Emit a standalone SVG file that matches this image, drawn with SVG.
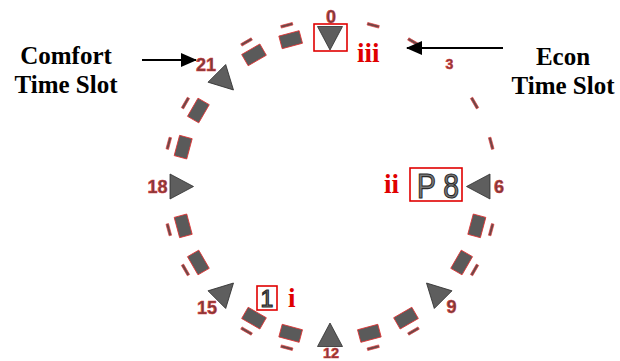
<svg xmlns="http://www.w3.org/2000/svg" xmlns:xlink="http://www.w3.org/1999/xlink" width="620" height="361" viewBox="0 0 620 361">
<style>
.slot{fill:#5a5a5a;stroke:#e03030;stroke-width:0.8}
.dash{fill:#6e4848;stroke:#e03a3a;stroke-width:0.6}
.tri{fill:#5e5e5e;stroke:#2e2e2e;stroke-width:0.8;stroke-linejoin:round}
.num{font-family:"Liberation Sans",Arial,sans-serif;font-weight:bold;font-size:18px;fill:#7a3a3a;stroke:#d83a3a;stroke-width:0.6;text-anchor:middle}
.cap{font-family:"Liberation Serif","Times New Roman",serif;font-weight:bold;font-size:25px;fill:#000;text-anchor:middle}
.red{font-family:"Liberation Serif","Times New Roman",serif;font-weight:bold;font-size:27px;fill:#e00000}
.box{fill:none;stroke:#e00000;stroke-width:1.6}
.seg{font-family:"Liberation Sans",Arial,sans-serif;fill:#7a7a7a;stroke:#2a2a2a;stroke-width:1.2}
.arr{stroke:#000;stroke-width:2;fill:none}
</style>
<defs>
<rect id="slot" class="slot" x="319.5" y="28" width="21" height="13"/>
<rect id="dash" class="dash" x="324" y="18.3" width="12" height="2.6"/>
<polygon id="tri" class="tri" points="317.5,26.5 342.5,26.5 330,50"/>
<marker id="ah" markerWidth="16" markerHeight="14" refX="15" refY="7" orient="auto" markerUnits="userSpaceOnUse">
<polygon points="0,0 16,7 0,14" fill="#000"/>
</marker>
</defs>
<g id="dial">
<g id="h00"><use xlink:href="#tri"/></g>
<g id="h01"><use xlink:href="#dash" transform="rotate(15 330 186.5)"/></g>
<g id="h02"><use xlink:href="#dash" transform="rotate(30 330 186.5)"/></g>
<g id="h04"><use xlink:href="#dash" transform="rotate(60 330 186.5)"/></g>
<g id="h05"><use xlink:href="#dash" transform="rotate(75 330 186.5)"/></g>
<g id="h06"><use xlink:href="#tri" transform="rotate(90 330 186.5)"/></g>
<g id="h07"><use xlink:href="#slot" transform="rotate(105 330 186.5)"/><use xlink:href="#dash" transform="rotate(105 330 186.5)"/></g>
<g id="h08"><use xlink:href="#slot" transform="rotate(120 330 186.5)"/><use xlink:href="#dash" transform="rotate(120 330 186.5)"/></g>
<g id="h09"><use xlink:href="#tri" transform="rotate(135 330 186.5)"/></g>
<g id="h10"><use xlink:href="#slot" transform="rotate(150 330 186.5)"/><use xlink:href="#dash" transform="rotate(150 330 186.5)"/></g>
<g id="h11"><use xlink:href="#slot" transform="rotate(165 330 186.5)"/><use xlink:href="#dash" transform="rotate(165 330 186.5)"/></g>
<g id="h12"><use xlink:href="#tri" transform="rotate(180 330 186.5)"/></g>
<g id="h13"><use xlink:href="#slot" transform="rotate(195 330 186.5)"/><use xlink:href="#dash" transform="rotate(195 330 186.5)"/></g>
<g id="h14"><use xlink:href="#slot" transform="rotate(210 330 186.5)"/><use xlink:href="#dash" transform="rotate(210 330 186.5)"/></g>
<g id="h15"><use xlink:href="#tri" transform="rotate(225 330 186.5)"/></g>
<g id="h16"><use xlink:href="#slot" transform="rotate(240 330 186.5)"/><use xlink:href="#dash" transform="rotate(240 330 186.5)"/></g>
<g id="h17"><use xlink:href="#slot" transform="rotate(255 330 186.5)"/><use xlink:href="#dash" transform="rotate(255 330 186.5)"/></g>
<g id="h18"><use xlink:href="#tri" transform="rotate(270 330 186.5)"/></g>
<g id="h19"><use xlink:href="#slot" transform="rotate(285 330 186.5)"/><use xlink:href="#dash" transform="rotate(285 330 186.5)"/></g>
<g id="h20"><use xlink:href="#slot" transform="rotate(300 330 186.5)"/><use xlink:href="#dash" transform="rotate(300 330 186.5)"/></g>
<g id="h21"><use xlink:href="#tri" transform="rotate(315 330 186.5)"/></g>
<g id="h22"><use xlink:href="#slot" transform="rotate(330 330 186.5)"/><use xlink:href="#dash" transform="rotate(330 330 186.5)"/></g>
<g id="h23"><use xlink:href="#slot" transform="rotate(345 330 186.5)"/><use xlink:href="#dash" transform="rotate(345 330 186.5)"/></g>
</g>
<g id="hour-labels">
<text class="num" x="331" y="23">0</text>
<text class="num" x="449.5" y="69" style="font-size:14px">3</text>
<text class="num" x="499" y="193">6</text>
<text class="num" x="451.5" y="313">9</text>
<text class="num" x="331" y="358.3" style="font-size:14.5px">12</text>
<text class="num" x="207" y="314">15</text>
<text class="num" x="157.5" y="193">18</text>
<text class="num" x="206" y="71">21</text>
</g>
<g id="marker-iii">
<rect class="box" x="314" y="24" width="33" height="27"/>
<text class="red" x="357" y="62">iii</text>
</g>
<g id="display-ii">
<rect class="box" x="410" y="168" width="52" height="33"/>
<text class="seg" x="417" y="198" font-size="35" textLength="42" lengthAdjust="spacingAndGlyphs">P 8</text>
<text class="red" x="384" y="193">ii</text>
</g>
<g id="display-i">
<rect class="box" x="257" y="286" width="20" height="24"/>
<text class="seg" x="267" y="307" font-size="23" text-anchor="middle">1</text>
<text class="red" x="288" y="307">i</text>
</g>
<g id="comfort-label">
<text class="cap" x="66" y="64">Comfort</text>
<text class="cap" x="66" y="93">Time Slot</text>
</g>
<g id="econ-label">
<text class="cap" x="563" y="65">Econ</text>
<text class="cap" x="563" y="94">Time Slot</text>
</g>
<g id="connectors">
<line class="arr" x1="142" y1="60" x2="196" y2="60" marker-end="url(#ah)"/>
<line class="arr" x1="503" y1="48" x2="407" y2="48" marker-end="url(#ah)"/>
</g>
</svg>
